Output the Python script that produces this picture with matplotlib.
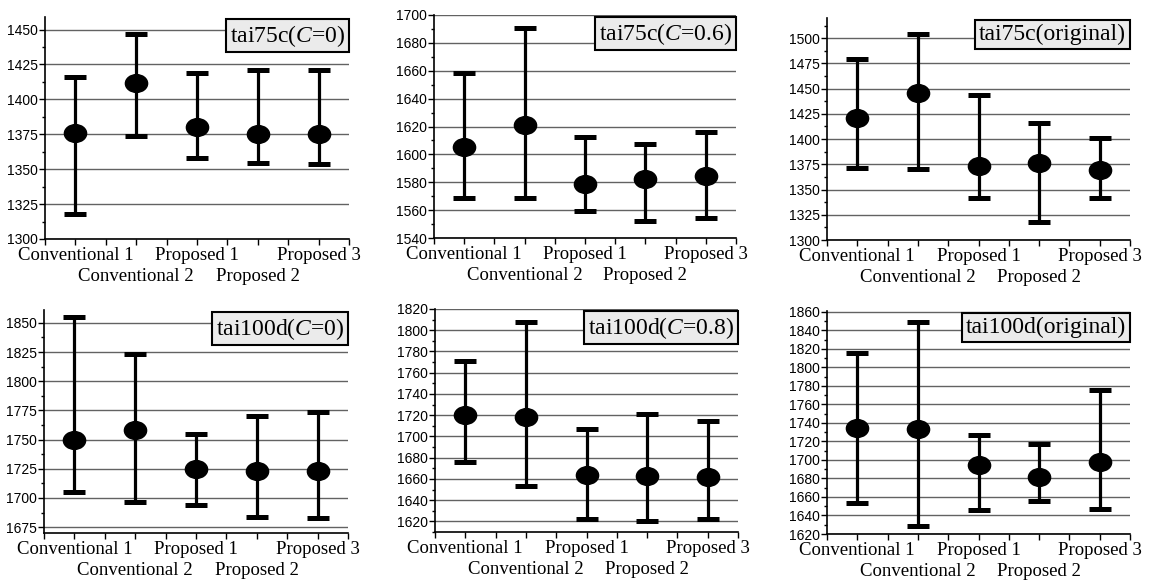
"""
Error-bar comparison of the five methods on the tai75c / tai100d instances
"""
import matplotlib
matplotlib.use("Agg")
import matplotlib.pyplot as plt
from matplotlib.path import Path
from matplotlib.transforms import Affine2D
from matplotlib.ticker import MultipleLocator, AutoMinorLocator

plt.rcParams['mathtext.fontset'] = 'custom'
plt.rcParams['mathtext.rm'] = 'Liberation Serif'
plt.rcParams['mathtext.it'] = 'Liberation Serif:italic'

methods = ['Conventional 1', 'Conventional 2', 'Proposed 1', 'Proposed 2', 'Proposed 3']

titles = [r'tai75c($C$=0)', r'tai75c($C$=0.6)', 'tai75c(original)',
          r'tai100d($C$=0)', r'tai100d($C$=0.8)', 'tai100d(original)']

# mean / max / min for each method
mean_75c_c0 = [1376, 1411.5, 1380.5, 1375, 1375.5]
high_75c_c0 = [1416, 1447, 1419, 1421, 1421]
low_75c_c0 = [1318, 1374, 1358, 1354.5, 1354]

mean_75c_c06 = [1605.5, 1621, 1579, 1582, 1584.5]
high_75c_c06 = [1658.5, 1690.5, 1612.5, 1607.5, 1616]
low_75c_c06 = [1568.5, 1569, 1559.5, 1552.5, 1554]

mean_75c_org = [1421, 1446, 1373, 1376.5, 1369.5]
high_75c_org = [1479.5, 1504, 1444, 1415.5, 1401]
low_75c_org = [1371, 1370, 1341.5, 1318, 1341.5]

mean_100d_c0 = [1750, 1758.5, 1724.5, 1723.5, 1723.5]
high_100d_c0 = [1855, 1823.5, 1755, 1770, 1773.5]
low_100d_c0 = [1705.5, 1696.5, 1694, 1683.5, 1682.5]

mean_100d_c08 = [1720, 1718.5, 1664, 1663, 1662]
high_100d_c08 = [1771, 1807.5, 1707, 1721, 1714.5]
low_100d_c08 = [1676, 1653, 1622, 1620, 1622]

mean_100d_org = [1735, 1733, 1695, 1682, 1697.5]
high_100d_org = [1816, 1849, 1726.5, 1717, 1775.5]
low_100d_org = [1653, 1628.5, 1646, 1655.5, 1647.5]

means = [mean_75c_c0, mean_75c_c06, mean_75c_org, mean_100d_c0, mean_100d_c08, mean_100d_org]
highs = [high_75c_c0, high_75c_c06, high_75c_org, high_100d_c0, high_100d_c08, high_100d_org]
lows = [low_75c_c0, low_75c_c06, low_75c_org, low_100d_c0, low_100d_c08, low_100d_org]

y_limits = [(1300, 1459), (1540, 1700), (1300, 1520), (1670, 1861), (1610, 1820), (1620, 1861)]
y_steps = [25, 20, 25, 25, 20, 20]

# axes boxes in pixels: left, right, top, bottom
W, H = 1152, 581
boxes = [(45, 349, 17, 239), (434, 736, 15, 238), (827, 1130, 18, 240),
         (44, 348, 310, 533), (435, 738, 309, 532), (827, 1130, 311, 534)]

ellipse = Path.unit_circle().transformed(Affine2D().scale(1.0, 0.8))

fig = plt.figure(figsize=(W / 100, H / 100), dpi=100)

x = list(range(1, len(methods) + 1))

for k in range(6):
    l, r, t, b = boxes[k]
    ax = fig.add_axes([l / W, 1 - b / H, (r - l) / W, (b - t) / H])
    m = means[k]
    err = [[m[i] - lows[k][i] for i in range(5)], [highs[k][i] - m[i] for i in range(5)]]
    ax.errorbar(x, m, yerr=err, fmt='none', ecolor='black', elinewidth=2.3,
                capsize=8, capthick=3.6, zorder=3)
    ax.plot(x, m, linestyle='none', marker=ellipse, markersize=16,
            color='black', zorder=4)

    ax.set_xlim(0.5, 5.5)
    ax.set_ylim(*y_limits[k])
    ax.yaxis.set_major_locator(MultipleLocator(y_steps[k]))
    ax.yaxis.set_minor_locator(AutoMinorLocator(2))
    ax.set_xticks(x)
    ax.set_xticklabels(methods, family='Liberation Serif', fontsize=13.5)
    ax.set_xticks([0.5, 1.5, 2.5, 3.5, 4.5, 5.5], minor=True)
    for lab in ax.get_yticklabels():
        lab.set_family('Liberation Sans')
        lab.set_fontsize(10)
    ax.tick_params(axis='x', which='both', direction='out', length=4, width=1, pad=2)
    ax.tick_params(axis='y', which='major', direction='out', length=4, width=1, pad=1)
    ax.tick_params(axis='y', which='minor', direction='out', length=2, width=1)
    # staggered labels: second and fourth go on a lower row
    for i, tick in enumerate(ax.xaxis.get_major_ticks()):
        if i % 2 == 1:
            tick.set_pad(17)
    ax.grid(axis='y', which='major', color='#626262', linewidth=1.0, zorder=0)
    ax.set_axisbelow(True)
    for side in ['top', 'right']:
        ax.spines[side].set_visible(False)
    for side in ['left', 'bottom']:
        ax.spines[side].set_linewidth(1.2)

    ax.annotate(titles[k], xy=(1, 1), xycoords='axes fraction',
                xytext=(-4, -6), textcoords='offset pixels',
                ha='right', va='top', family='Liberation Serif', fontsize=17,
                bbox=dict(boxstyle='square,pad=0.15', facecolor='#ebebeb',
                          edgecolor='black', linewidth=1.5), zorder=5)

fig.savefig('out.png', dpi=100)
